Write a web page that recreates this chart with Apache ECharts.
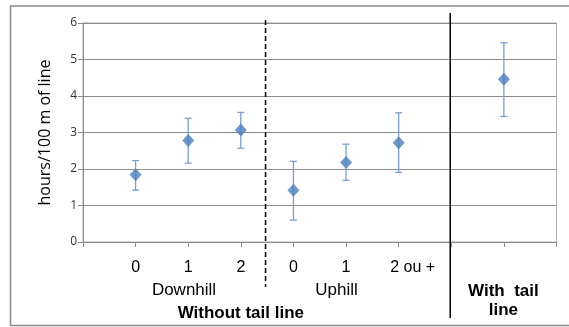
<!DOCTYPE html>
<html>
<head>
<meta charset="utf-8">
<script src="https://cdn.jsdelivr.net/npm/echarts@6/dist/echarts.min.js"></script>
<style>
html,body{margin:0;padding:0;background:#fff;}
#chart{width:569px;height:327px;}
</style>
</head>
<body>
<div id="chart"></div>
<script>
// Data
var xPositions = [1, 2, 3, 4, 5, 6, 8];
var means = [1.84, 2.78, 3.07, 1.42, 2.18, 2.72, 4.46];
var upper = [2.23, 3.39, 3.55, 2.21, 2.68, 3.54, 5.46];
var lower = [1.42, 2.16, 2.57, 0.60, 1.69, 1.91, 3.44];
var xTickLabels = ['', '0', '1', '2', '0', '1', '2 ou +', '', '', ''];
var yTicks = [0, 1, 2, 3, 4, 5, 6];
var groupLabels = ['Downhill', 'Uphill'];
var groupCenters = [1.92, 4.82];
var outerLabels = ['Without tail line', 'With  tail\nline'];
var outerCenters = [3.00, 7.99];
var dividers = [3.47, 6.98];

var chart = echarts.init(document.getElementById('chart'), null, {renderer: 'canvas'});

var scatterData = xPositions.map(function (x, i) { return [x, means[i]]; });
var errData = xPositions.map(function (x, i) { return [x, lower[i], upper[i]]; });

var option = {
  animation: false,
  grid: {left: 83, right: 12.5, top: 23, bottom: 85, show: true, borderColor: '#b0b0b0', borderWidth: 1},
  xAxis: {
    type: 'value', min: 0, max: 9, interval: 1,
    axisLine: {show: true, lineStyle: {color: '#8c8c8c', width: 1}},
    axisTick: {show: true, length: 5, lineStyle: {color: '#8c8c8c'}},
    splitLine: {show: false},
    axisLabel: {
      margin: 18, fontFamily: 'Liberation Sans', fontSize: 16, color: '#000',
      formatter: function (v) {
        var t = xTickLabels[Math.round(v)] || '';
        if (t.length > 1) return '{r|' + t + '}';
        return t;
      },
      rich: {r: {fontFamily: 'Liberation Sans', fontSize: 16, color: '#000', padding: [0, 0, 0, 28]}}
    }
  },
  yAxis: {
    type: 'value', min: yTicks[0], max: yTicks[yTicks.length - 1], interval: 1,
    name: 'hours/100 m of line', nameLocation: 'middle', nameGap: 30,
    nameTextStyle: {fontFamily: 'Open Sans', fontSize: 16, color: '#000'},
    axisLine: {show: true, lineStyle: {color: '#8c8c8c', width: 1}},
    axisTick: {show: true, length: 5, lineStyle: {color: '#8c8c8c'}},
    splitLine: {show: true, lineStyle: {color: '#8c8c8c', width: 1}},
    axisLabel: {margin: 6, fontFamily: 'Open Sans', fontSize: 12, color: '#333'}
  },
  series: [
    {
      type: 'custom',
      data: errData,
      z: 2,
      renderItem: function (params, api) {
        var x = api.value(0);
        var lo = api.coord([x, api.value(1)]);
        var hi = api.coord([x, api.value(2)]);
        var s = {stroke: '#76a0d2', lineWidth: 1.3};
        return {
          type: 'group',
          children: [
            {type: 'line', shape: {x1: lo[0], y1: lo[1], x2: hi[0], y2: hi[1]}, style: s},
            {type: 'line', shape: {x1: lo[0] - 3.5, y1: lo[1], x2: lo[0] + 3.5, y2: lo[1]}, style: s},
            {type: 'line', shape: {x1: hi[0] - 3.5, y1: hi[1], x2: hi[0] + 3.5, y2: hi[1]}, style: s}
          ]
        };
      }
    },
    {
      type: 'scatter',
      data: scatterData,
      symbol: 'diamond',
      symbolSize: [12, 13],
      z: 3,
      itemStyle: {color: '#4a7ebb'}
    }
  ]
};
chart.setOption(option);

function px(v) { return chart.convertToPixel({xAxisIndex: 0}, v); }
var graphics = [
  {type: 'rect', shape: {x: 10.5, y: 6, width: 580, height: 319.5}, style: {fill: 'none', stroke: '#8c8c8c', lineWidth: 1.5}, z: 0, silent: true},
  {type: 'line', shape: {x1: px(dividers[0]), y1: 20, x2: px(dividers[0]), y2: 287}, style: {stroke: '#111', lineWidth: 1.6, lineDash: [5, 3]}, z: 10},
  {type: 'line', shape: {x1: px(dividers[1]), y1: 13, x2: px(dividers[1]), y2: 318}, style: {stroke: '#000', lineWidth: 1.5}, z: 10}
];
groupLabels.forEach(function (t, i) {
  graphics.push({type: 'text', x: px(groupCenters[i]), y: 290, style: {text: t, fontFamily: 'Liberation Sans', fontSize: 17, fill: '#000', textAlign: 'center', textVerticalAlign: 'middle'}, z: 10});
});
graphics.push({type: 'text', x: px(outerCenters[0]), y: 313.5, style: {text: outerLabels[0], fontFamily: 'Liberation Sans', fontWeight: 'bold', fontSize: 17, fill: '#000', textAlign: 'center', textVerticalAlign: 'middle'}, z: 10});
graphics.push({type: 'text', x: px(outerCenters[1]), y: 300.5, style: {text: outerLabels[1], fontFamily: 'Liberation Sans', fontWeight: 'bold', fontSize: 17, lineHeight: 19, fill: '#000', textAlign: 'center', textVerticalAlign: 'middle'}, z: 10});
chart.setOption({graphic: graphics});
</script>
</body>
</html>
